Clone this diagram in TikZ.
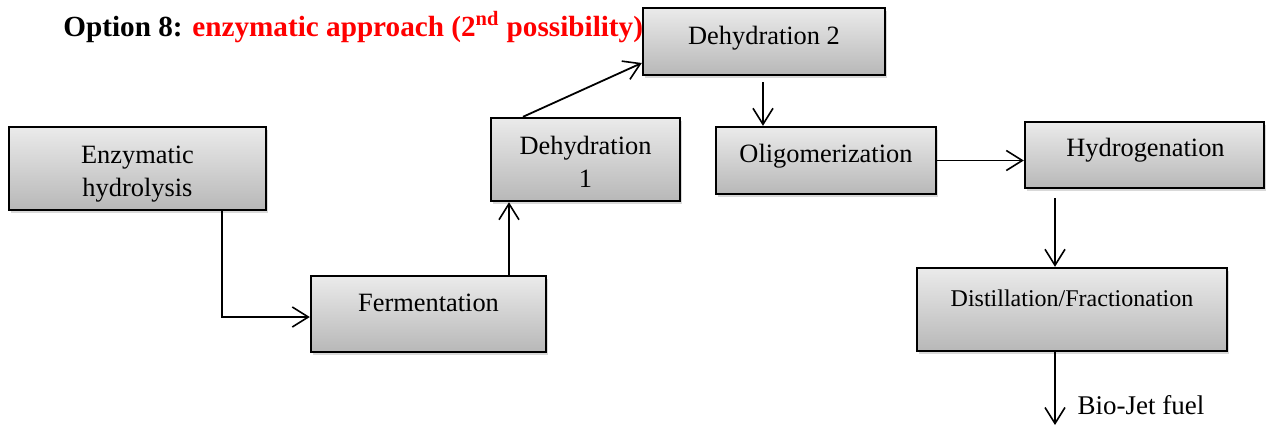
\documentclass[tikz,border=0pt]{standalone}
\usepackage{fontspec}
\setmainfont{Liberation Serif}[BoldFont={Liberation Serif Bold},ItalicFont={Liberation Serif Italic}]
\usepackage{xcolor}
\usepackage{tikz}
\usetikzlibrary{arrows.meta,positioning,calc,shadows}

\begin{document}
\begin{tikzpicture}[x=0.5pt, y=-0.5pt,
  box/.style={rectangle,draw,line width=1.2pt,top color=gray!16,bottom color=gray!56,
    drop shadow={shadow xshift=1.2pt,shadow yshift=-1.5pt,opacity=0.3},inner sep=0pt},
  txt/.style={inner sep=0pt,align=center,font=\fontsize{13.2}{16.5}\selectfont},
  arr/.style={-{Straight Barb[length=8pt,width=10pt,line width=0.8pt]},line width=0.9pt}]
  \useasboundingbox (0,0) rectangle (1266,430);
  %--- title ---
  \node[anchor=west,inner sep=0pt,font=\fontsize{14.6}{17}\selectfont\bfseries] (title) at (63,27)
    {Option 8: \textcolor{red}{enzymatic approach (2\textsuperscript{nd} possibility)}};
  %--- boxes ---
  \node[box,minimum width=128.5pt,minimum height=41.5pt] (enz)   at (137.5,168.5) {};
  \node[box,minimum width=117.5pt,minimum height=38pt]   (ferm)  at (428.5,314)   {};
  \node[box,minimum width=94.5pt, minimum height=41.5pt] (deh1)  at (585.5,159.5) {};
  \node[box,minimum width=121pt,  minimum height=33.5pt] (deh2)  at (764,41.5)    {};
  \node[box,minimum width=110pt,  minimum height=33.5pt] (olig)  at (826,160.5)   {};
  \node[box,minimum width=119.5pt,minimum height=33pt]   (hydro) at (1144.5,155)  {};
  \node[box,minimum width=155pt,  minimum height=41.5pt] (dist)  at (1072,309.5)  {};
  %--- texts ---
  \node[txt] (enzT)   at (137.5,174)  {Enzymatic\\hydrolysis};
  \node[txt] (fermT)  at (428.5,303)  {Fermentation};
  \node[txt] (deh1T)  at (585.5,162)  {Dehydration\\1};
  \node[txt] (deh2T)  at (764,38)     {Dehydration 2};
  \node[txt] (oligT)  at (826,156)    {Oligomerization};
  \node[txt] (hydroT) at (1145.5,150) {Hydrogenation};
  \node[txt,font=\fontsize{12}{14}\selectfont] (distT) at (1072,298) {Distillation/Fractionation};
  \node[txt,font=\fontsize{13.5}{16}\selectfont] (fuel) at (1141,405) {Bio-Jet fuel};
  %--- connectors ---
  \coordinate (out) at (1055,425);
  \draw[arr] (enz.south -| 222,0) |- (0,317 -| ferm.west);
  \draw[arr] (ferm.north -| 509,0) -- (deh1.south -| 509,0);
  \draw[arr] (deh1.north -| 523,0) -- (deh2.west |- 0,63);
  \draw[arr,shorten <=3pt] (deh2.south -| 763,0) -- (olig.north -| 763,0);
  \draw[arr] (olig.east) -- (olig.east -| hydro.west);
  \draw[arr,shorten <=4.5pt] (hydro.south -| out) -- (dist.north -| out);
  \draw[arr] (dist.south -| out) -- (out);
\end{tikzpicture}
\end{document}
